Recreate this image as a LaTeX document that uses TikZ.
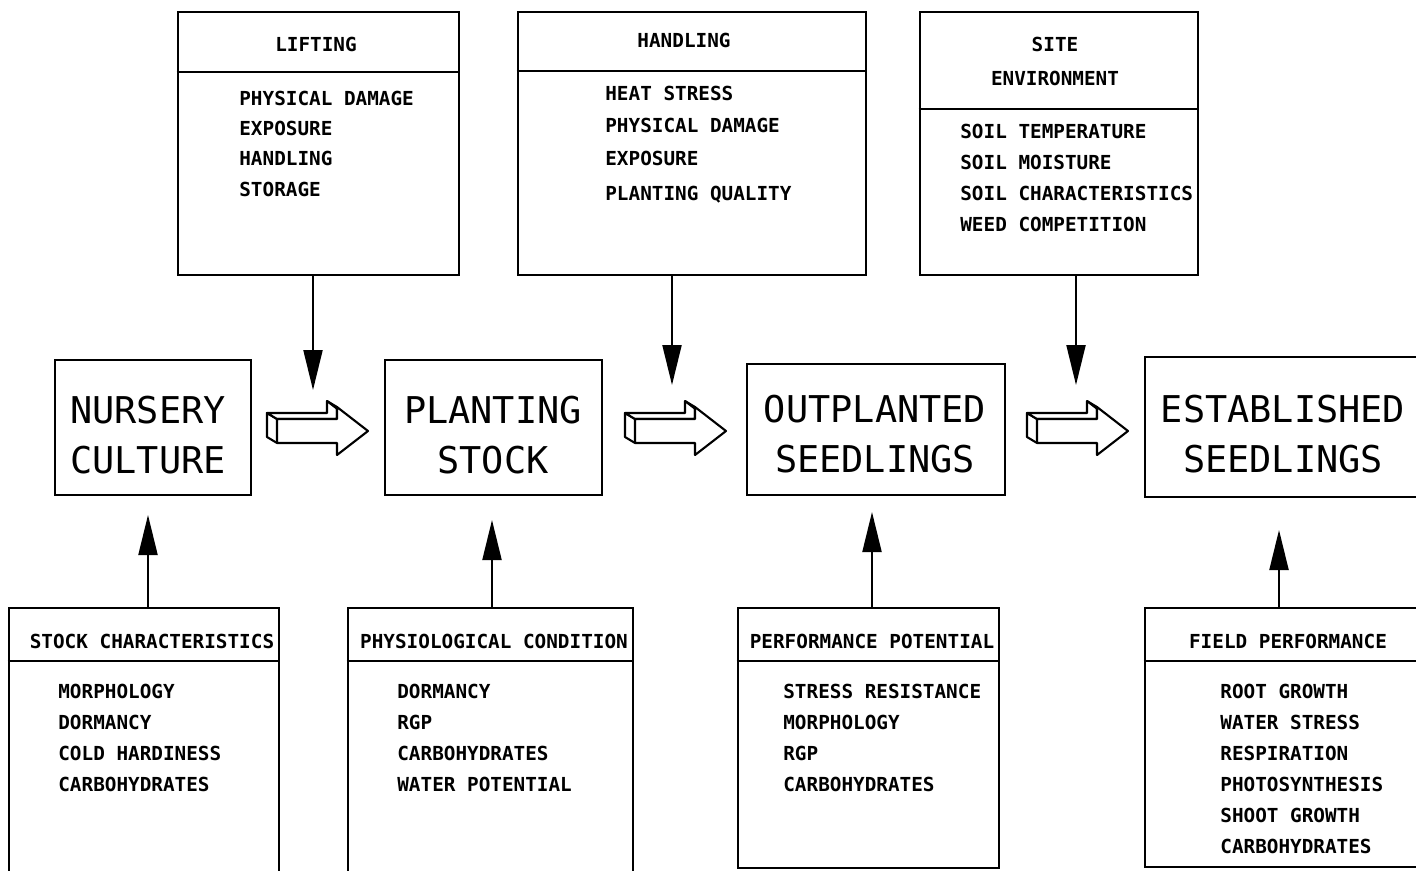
\documentclass[tikz,border=0pt]{standalone}
\usepackage{fontspec}
\usetikzlibrary{arrows.meta,fit}
\newfontfamily\plotfont{DejaVu Sans Mono}

\begin{document}
\begin{tikzpicture}[x=0.02cm,y=-0.02cm,
  box/.style={draw, line width=1.5pt, inner sep=0pt},
  rule/.style={line width=1.2pt},
  stage/.style={font=\plotfont\fontsize{21}{28.5}\selectfont, align=center},
  head/.style={font=\plotfont\bfseries\fontsize{11}{13}\selectfont, text height=8pt, text depth=0pt, inner sep=0pt},
  item/.style={head, anchor=west},
  feed/.style={line width=1.2pt, -{Triangle[length=0.8cm,width=0.38cm]}},
  blockarr/.style={line width=1.2pt, line join=round}]
\useasboundingbox (0,0) rectangle (1416,870);
\clip (0,0) rectangle (1416,870);

% top boxes
\node[box, fit={(178,12) (459,275)}] (lift) {};
\draw[rule] (lift.west |- 0,72) -- (lift.east |- 0,72);
\node[head] (lift-t) at (316,44) {LIFTING};
\foreach \t/\y in {PHYSICAL DAMAGE/98, EXPOSURE/128, HANDLING/158, STORAGE/189}
  \node[item] at (239,\y) {\t};

\node[box, fit={(518,12) (866,275)}] (hand) {};
\draw[rule] (hand.west |- 0,71) -- (hand.east |- 0,71);
\node[head] (hand-t) at (684,40) {HANDLING};
\foreach \t/\y in {HEAT STRESS/93, PHYSICAL DAMAGE/125, EXPOSURE/158, PLANTING QUALITY/193}
  \node[item] at (605,\y) {\t};

\node[box, fit={(920,12) (1198,275)}] (site) {};
\draw[rule] (site.west |- 0,109) -- (site.east |- 0,109);
\node[head] (site-t) at (1055,44) {SITE};
\node[head] (site-t2) at (1055,78) {ENVIRONMENT};
\foreach \t/\y in {SOIL TEMPERATURE/131, SOIL MOISTURE/162, SOIL CHARACTERISTICS/193, WEED COMPETITION/224}
  \node[item] at (960,\y) {\t};

% stages
\node[box, fit={(55,360) (251,495)}] (nurse) {};
\node[stage] (nurse-t) at (148,435) {NURSERY\\CULTURE};
\node[box, fit={(385,360) (602,495)}] (plant) {};
\node[stage] (plant-t) at (493,435) {PLANTING\\STOCK};
\node[box, fit={(747,364) (1005,495)}] (outpl) {};
\node[stage] (outpl-t) at (875,434) {OUTPLANTED\\SEEDLINGS};
\node[box, fit={(1145,357) (1440,497)}] (estab) {};
\node[stage] (estab-t) at (1283,434) {ESTABLISHED\\SEEDLINGS};

\foreach \bx in {277,635,1037} {
  \draw[blockarr, fill=white] (\bx,419) -- (\bx-10,413) -- (\bx-10,437) -- (\bx,443);
  \draw[blockarr, fill=white] (\bx,419) -- (\bx-10,413) -- (\bx+50,413) -- (\bx+50,401) -- (\bx+60,407) -- (\bx+60,419) -- cycle;
  \draw[blockarr] (\bx+50,401) -- (\bx+60,408.7);
  \draw[blockarr, fill=white] (\bx,419) -- (\bx+60,419) -- (\bx+60,407) -- (\bx+91,431)
    -- (\bx+60,455) -- (\bx+60,443) -- (\bx,443) -- cycle;
}

% bottom boxes
\node[box, fit={(9,608) (279,885)}] (stock) {};
\draw[rule] (stock.west |- 0,661) -- (stock.east |- 0,661);
\node[head] (stock-t) at (152,641) {STOCK CHARACTERISTICS};
\foreach \t/\y in {MORPHOLOGY/691, DORMANCY/722, COLD HARDINESS/753, CARBOHYDRATES/784}
  \node[item] at (58,\y) {\t};

\node[box, fit={(348,608) (633,885)}] (phys) {};
\draw[rule] (phys.west |- 0,661) -- (phys.east |- 0,661);
\node[head] (phys-t) at (494,641) {PHYSIOLOGICAL CONDITION};
\foreach \t/\y in {DORMANCY/691, RGP/722, CARBOHYDRATES/753, WATER POTENTIAL/784}
  \node[item] at (397,\y) {\t};

\node[box, fit={(738,608) (999,868)}] (perf) {};
\draw[rule] (perf.west |- 0,661) -- (perf.east |- 0,661);
\node[head] (perf-t) at (872,641) {PERFORMANCE POTENTIAL};
\foreach \t/\y in {STRESS RESISTANCE/691, MORPHOLOGY/722, RGP/753, CARBOHYDRATES/784}
  \node[item] at (783,\y) {\t};

\node[box, fit={(1145,608) (1440,867)}] (field) {};
\draw[rule] (field.west |- 0,661) -- (field.east |- 0,661);
\node[head] (field-t) at (1288,641) {FIELD PERFORMANCE};
\foreach \t/\y in {ROOT GROWTH/691, WATER STRESS/722, RESPIRATION/753, PHOTOSYNTHESIS/784, SHOOT GROWTH/815, CARBOHYDRATES/846}
  \node[item] at (1220,\y) {\t};

% influences
\coordinate (liftend) at (313,390);
\coordinate (handend) at (672,385);
\coordinate (siteend) at (1076,385);
\draw[feed] (lift.south -| liftend) -- (liftend);
\draw[feed] (hand.south -| handend) -- (handend);
\draw[feed] (site.south -| siteend) -- (siteend);

\coordinate (stockend) at (148,515);
\coordinate (physend) at (492,520);
\coordinate (perfend) at (872,512);
\coordinate (fieldend) at (1279,530);
\draw[feed] (stock.north -| stockend) -- (stockend);
\draw[feed] (phys.north -| physend) -- (physend);
\draw[feed] (perf.north -| perfend) -- (perfend);
\draw[feed] (field.north -| fieldend) -- (fieldend);

\end{tikzpicture}
\end{document}
